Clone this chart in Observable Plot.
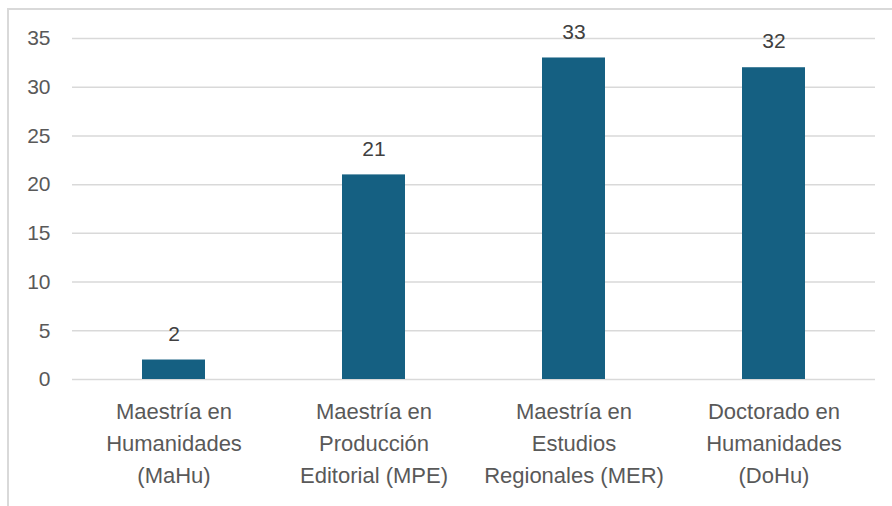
<!DOCTYPE html>
<html>
<head>
<meta charset="utf-8">
<script src="https://cdn.jsdelivr.net/npm/d3@7"></script>
<script src="https://cdn.jsdelivr.net/npm/@observablehq/plot@0.6"></script>
<style>
  html, body { margin: 0; padding: 0; background: #ffffff; overflow: hidden; }
  #wrap { position: relative; width: 892px; height: 506px; }
  #frame { position: absolute; left: 7px; top: 8px; width: 1000px; height: 1000px;
           border-top: 2px solid #d9d9d9; border-left: 2px solid #d9d9d9; pointer-events: none; }
</style>
</head>
<body>
<div id="wrap"><div id="frame"></div></div>
<script>
const categories = [
  "Maestría en\nHumanidades\n(MaHu)",
  "Maestría en\nProducción\nEditorial (MPE)",
  "Maestría en\nEstudios\nRegionales (MER)",
  "Doctorado en\nHumanidades\n(DoHu)"
];
const values = [2, 21, 33, 32];
const yTicks = [0, 5, 10, 15, 20, 25, 30, 35];

const data = categories.map((c, i) => ({category: c, value: values[i]}));

const font = "'Liberation Sans', Arial, sans-serif";
const textColor = "#595959";

const chart = Plot.plot({
  width: 892,
  height: 506,
  marginLeft: 72,
  marginRight: 17,
  marginTop: 38,
  marginBottom: 127,
  style: {fontFamily: font, color: textColor, background: "transparent"},
  x: {domain: categories, paddingInner: 0.686, paddingOuter: 0.343, label: null},
  y: {domain: [0, 35], label: null},
  marks: [
    Plot.ruleY(yTicks, {stroke: "#d9d9d9", strokeWidth: 1.5}),
    Plot.barY(data, {x: "category", y: "value", fill: "#156082"}),
    Plot.text(data, {x: "category", y: "value", text: d => String(d.value), dy: -26,
      fontSize: 21, fill: "#404040"}),
    Plot.axisY({ticks: yTicks, tickSize: 0, tickPadding: 22, fontSize: 21, fill: textColor, label: null}),
    Plot.axisX({tickSize: 0, tickPadding: 17, fontSize: 22, lineHeight: 1.45, fill: textColor, label: null})
  ]
});
document.getElementById("wrap").appendChild(chart);
</script>
</body>
</html>
